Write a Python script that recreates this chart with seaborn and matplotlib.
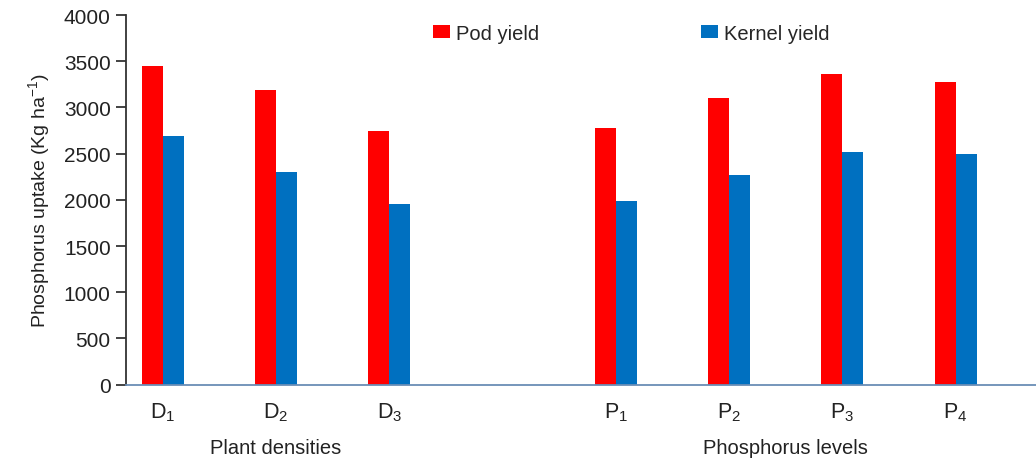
import pandas as pd
import matplotlib
matplotlib.use("Agg")
import matplotlib.pyplot as plt
import seaborn as sns

# values
categories = ["D1", "D2", "D3", "P1", "P2", "P3", "P4"]
pod_yield = [3450, 3190, 2750, 2780, 3100, 3365, 3280]
kernel_yield = [2690, 2300, 1960, 1985, 2270, 2520, 2495]
tick_labels = [r"$\mathregular{D_1}$", r"$\mathregular{D_2}$", r"$\mathregular{D_3}$", "",
               r"$\mathregular{P_1}$", r"$\mathregular{P_2}$", r"$\mathregular{P_3}$",
               r"$\mathregular{P_4}$"]
# empty slot between the two groups
order = ["D1", "D2", "D3", " ", "P1", "P2", "P3", "P4"]

df = pd.DataFrame({
    "Category": categories * 2,
    "Series": ["Pod yield"] * len(categories) + ["Kernel yield"] * len(categories),
    "Value": pod_yield + kernel_yield,
})

sns.set_style("white")
plt.rcParams['font.family'] = ['Liberation Sans', 'DejaVu Sans']
plt.rcParams['mathtext.fontset'] = 'custom'
plt.rcParams['mathtext.rm'] = 'Liberation Sans'

fig = plt.figure(figsize=(10.36, 4.64), dpi=100)
ax = fig.add_axes([0.1216, 0.1688, 0.8784, 0.7967])

sns.barplot(data=df, x="Category", y="Value", hue="Series", order=order,
            hue_order=["Pod yield", "Kernel yield"],
            palette={"Pod yield": "#FF0000", "Kernel yield": "#0070C0"},
            width=0.37, saturation=1, linewidth=0, errorbar=None, ax=ax)

ax.set_xlim(-0.324, 7.71)
ax.set_ylim(0, 4000)
ax.set_yticks(range(0, 4001, 500))
ax.set_xticks(range(len(order)))
ax.set_xticklabels(tick_labels)
ax.tick_params(axis="x", length=0, pad=11, labelsize=15.5, colors="#222222")
ax.tick_params(axis="y", length=7, width=1.2, pad=4, labelsize=15, colors="#222222",
               left=True)
ax.set_xlabel("")
ax.set_ylabel(r"Phosphorus uptake (Kg ha$^{\mathregular{-1}}$)", fontsize=14, color="#222222",
              labelpad=8)

for s in ["top", "right"]:
    ax.spines[s].set_visible(False)
ax.spines["left"].set_color("#333333")
ax.spines["left"].set_linewidth(1.3)
ax.spines["bottom"].set_color("#6A8DB5")
ax.spines["bottom"].set_linewidth(1.3)

# group labels under the ticks
ax.text(1, -0.169, "Plant densities", transform=ax.get_xaxis_transform(),
        ha="center", va="center", fontsize=14.5, color="#222222")
ax.text(5.5, -0.169, "Phosphorus levels", transform=ax.get_xaxis_transform(),
        ha="center", va="center", fontsize=14.5, color="#222222")

ax.legend(loc="center left", bbox_to_anchor=(0.337, 0.951), ncol=2, frameon=False,
          fontsize=14.5, handlelength=0.88, handleheight=0.62, handletextpad=0.3,
          columnspacing=8.0, borderpad=0, borderaxespad=0)

fig.savefig("out.png", dpi=100)
